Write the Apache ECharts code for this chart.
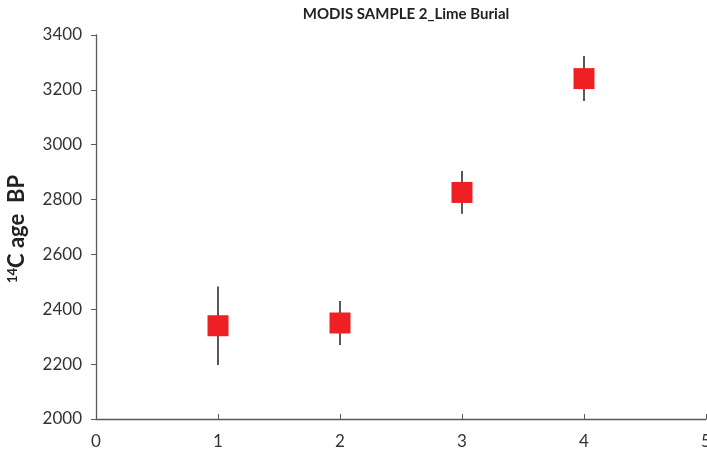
<!DOCTYPE html>
<html>
<head>
<meta charset="utf-8">
<script src="https://cdn.jsdelivr.net/npm/echarts@6/dist/echarts.min.js"></script>
<style>
  html, body { margin: 0; padding: 0; background: #fff; }
  #chart { width: 707px; height: 458px; }
</style>
</head>
<body>
<div id="chart"></div>
<script>
// sample index, 14C age and its error
var samples = [1, 2, 3, 4]
var ages = [2340, 2350, 2826, 3241]
var errors = [143, 80, 78, 82]
var xTicks = [0, 1, 2, 3, 4, 5]
var yTicks = [2000, 2200, 2400, 2600, 2800, 3000, 3200, 3400]

var chart = echarts.init(document.getElementById('chart'))

var points = samples.map(function (s, i) { return [s, ages[i]] })
var bars = samples.map(function (s, i) { return [s, ages[i] - errors[i], ages[i] + errors[i]] })

var font = 'Lato, "Liberation Sans", sans-serif'

chart.setOption({
  animation: false,
  title: {
    text: 'MODIS SAMPLE 2_Lime Burial',
    left: 401,
    top: 2,
    textAlign: 'center',
    textStyle: { fontFamily: font, fontSize: 15, fontWeight: 'bold', color: '#222' }
  },
  grid: { left: 96, right: 1, top: 35, bottom: 39, containLabel: false, outerBoundsMode: 'none' },
  xAxis: {
    type: 'value',
    min: xTicks[0],
    max: xTicks[xTicks.length - 1],
    interval: 1,
    splitLine: { show: false },
    axisLine: { lineStyle: { color: '#595959', width: 1.3 } },
    axisTick: { inside: true, length: 5, lineStyle: { color: '#595959' } },
    axisLabel: { margin: 14, fontFamily: font, fontSize: 17, color: '#333', showMaxLabel: true,
      formatter: function (v) { return String(v) } }
  },
  yAxis: {
    type: 'value',
    min: yTicks[0],
    max: yTicks[yTicks.length - 1],
    interval: 200,
    splitLine: { show: false },
    axisLine: { show: true, lineStyle: { color: '#595959', width: 1.3 } },
    axisTick: { show: true, length: 5, lineStyle: { color: '#595959' } },
    axisLabel: { margin: 14, fontFamily: font, fontSize: 17, color: '#333',
      formatter: function (v) { return String(v) } }
  },
  graphic: [{
    type: 'text',
    x: 17,
    y: 229,
    rotation: Math.PI / 2,
    style: {
      text: '{s|14}{b|C age  BP}',
      align: 'center',
      verticalAlign: 'middle',
      rich: {
        s: { fontFamily: font, fontSize: 13, fontWeight: 'bold', fill: '#222', padding: [0, 0, 9, 0] },
        b: { fontFamily: font, fontSize: 22, fontWeight: 'bold', fill: '#222' }
      }
    }
  }],
  series: [
    {
      type: 'custom',
      data: bars,
      z: 1,
      renderItem: function (params, api) {
        var lo = api.coord([api.value(0), api.value(1)])
        var hi = api.coord([api.value(0), api.value(2)])
        return {
          type: 'line',
          shape: { x1: lo[0], y1: lo[1], x2: hi[0], y2: hi[1] },
          style: { stroke: '#222', lineWidth: 1.5 }
        }
      }
    },
    {
      type: 'scatter',
      data: points,
      z: 2,
      symbol: 'rect',
      symbolSize: 21,
      itemStyle: { color: '#ee2024', opacity: 1 }
    }
  ]
})
</script>
</body>
</html>
